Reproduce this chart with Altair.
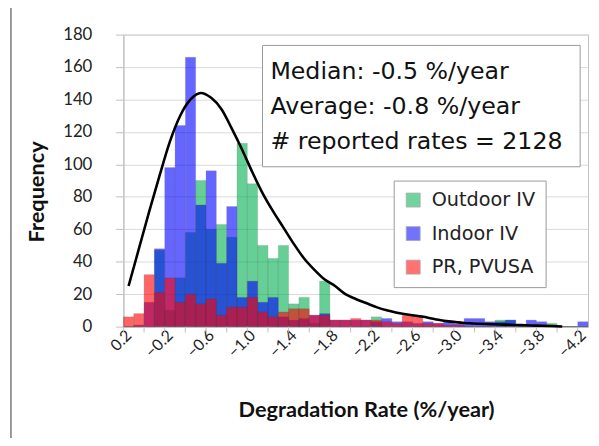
import altair as alt
import pandas as pd

rates = [0.2, 0.1, 0.0, -0.1, -0.2, -0.3, -0.4, -0.5, -0.6, -0.7, -0.8, -0.9, -1.0,
         -1.1, -1.2, -1.3, -1.4, -1.5, -1.6, -1.7, -1.8, -1.9, -2.0, -2.1, -2.2, -2.3,
         -2.4, -2.5, -2.6, -2.7, -2.8, -2.9, -3.0, -3.1, -3.2, -3.3, -3.4, -3.5, -3.6,
         -3.7, -3.8, -3.9, -4.0, -4.1, -4.2]
outdoor = [0, 0, 0, 47, 10, 30, 58, 90, 60, 63, 55, 113, 88, 50, 42, 50, 14, 18, 2, 28,
           0, 0, 0, 0, 6, 0, 0, 0, 0, 0, 0, 0, 0, 0, 0, 0, 4, 4, 0, 0, 0, 2, 0, 0, 0]
indoor = [0, 1, 15, 48, 98, 124, 166, 75, 96, 39, 74, 18, 28, 15, 18, 6, 4, 5, 7, 8,
          4, 4, 4, 4, 3, 5, 3, 3, 2, 3, 2, 3, 2, 5, 5, 3, 3, 4, 0, 4, 3, 0, 0, 0, 3]
pr = [6, 8, 32, 21, 30, 15, 20, 14, 17, 7, 12, 12, 18, 9, 6, 9, 11, 11, 7, 7,
      4, 4, 5, 4, 4, 3, 2, 7, 7, 2, 2, 1, 1, 0, 0, 0, 0, 0, 0, 0, 0, 0, 0, 0, 0]
series_names = ["Outdoor IV", "Indoor IV", "PR, PVUSA"]
series_colors = ["#00b050", "#0000ff", "#ff0000"]

curve_rates = rates[:43]
curve_vals = [25, 48, 71, 93, 114, 130, 140, 144, 141, 134, 122, 109, 95, 82, 71, 61,
              51, 42, 35, 29, 25, 20, 17, 14.5, 12, 10, 8.5, 7.5, 6.5, 5.5, 4.2, 3.2,
              2.6, 2.0, 1.7, 1.5, 1.3, 1.1, 0.9, 0.7, 0.5, 0.3, 0.1]

label_vals = [0.2, -0.2, -0.6, -1.0, -1.4, -1.8, -2.2, -2.6, -3.0, -3.4, -3.8, -4.2]
tick_vals = [0.25, 0.05, -0.15, -0.35, -0.55, -0.75, -0.95, -1.15, -1.35, -1.55, -1.75,
             -1.95, -2.15, -2.35, -2.55, -2.75, -2.95, -3.15, -3.35, -3.55, -3.75,
             -3.95, -4.15]
y_ticks = [0, 20, 40, 60, 80, 100, 120, 140, 160, 180]
box_lines = ["Median: -0.5 %/year", "Average: -0.8 %/year", "# reported rates = 2128"]

FONT = "Lato"
BOXFONT = "DejaVu Sans"
W, H = 471, 296

rows = []
for name, vals in zip(series_names, [outdoor, indoor, pr]):
    for r, v in zip(rates, vals):
        rows.append({"series": name, "lo": r + 0.05, "hi": r - 0.05, "count": v})
bars_df = pd.DataFrame(rows)
curve_df = pd.DataFrame({"rate": curve_rates, "fit": curve_vals})
ticks_df = pd.DataFrame({"t": tick_vals})
one_df = pd.DataFrame({"k": [0]})

xscale = alt.Scale(domain=[-4.25, 0.25], reverse=True, nice=False, zero=False)
yscale = alt.Scale(domain=[0, 180], nice=False)

xaxis = alt.Axis(values=label_vals, format=".1f", labelAngle=-45, labelAlign="right",
                 labelBaseline="middle", labelFontSize=16, labelFont=FONT,
                 labelColor="#222222", labelPadding=6, ticks=False, grid=False,
                 domainColor="#bfbfbf", labelFlush=False, labelOverlap=False,
                 title="Degradation Rate (%/year)", titleFont=FONT, titleFontSize=22,
                 titleFontWeight="bold", titleColor="#111111", titleX=246, titleY=84,
                 titleBaseline="middle", titleAlign="center")
yaxis = alt.Axis(values=y_ticks, labelFontSize=17, labelFont=FONT,
                 labelColor="#222222", tickSize=8, tickColor="#bfbfbf",
                 labelPadding=24, domainColor="#bfbfbf", grid=True,
                 gridColor="#d9d9d9", labelOverlap=False,
                 title="Frequency", titleFont=FONT, titleFontSize=22,
                 titleFontWeight="bold", titleColor="#111111", titleX=-88, titleY=159,
                 titleAngle=270, titleBaseline="middle", titleAlign="center")

bars = alt.Chart(bars_df).mark_bar(opacity=0.6, stroke="#333333", strokeOpacity=0.35,
                                   strokeWidth=0.7).encode(
    x=alt.X("lo:Q", scale=xscale, axis=xaxis),
    x2="hi:Q",
    y=alt.Y("count:Q", scale=yscale, axis=yaxis),
    y2=alt.datum(0),
    color=alt.Color("series:N", sort=series_names,
                    scale=alt.Scale(domain=series_names, range=series_colors),
                    legend=alt.Legend(title=None, orient="none", legendX=274, legendY=148,
                                      padding=10, strokeColor="#999999", fillColor="white",
                                      symbolType="square", symbolSize=200, symbolOpacity=0.55,
                                      symbolStrokeColor="#666666", symbolStrokeWidth=0.8,
                                      labelFontSize=19.5, labelFont=BOXFONT,
                                      labelColor="#222222", rowPadding=13, labelOffset=9)),
    order=alt.Order("series_order:Q")
).transform_calculate(
    series_order="indexof(['Outdoor IV','Indoor IV','PR, PVUSA'], datum.series)"
)

ticks = alt.Chart(ticks_df).mark_rule(color="#bfbfbf", strokeWidth=1).encode(
    x=alt.X("t:Q", scale=xscale, axis=xaxis), y=alt.value(H), y2=alt.value(H + 6))

curve = alt.Chart(curve_df).mark_line(color="black", strokeWidth=2.6,
                                      interpolate="monotone").encode(
    x=alt.X("rate:Q", scale=xscale, axis=xaxis),
    y=alt.Y("fit:Q", scale=yscale, axis=yaxis))

box = alt.Chart(one_df).mark_rect(fill="white", stroke="#999999", strokeWidth=1).encode(
    x=alt.value(141), x2=alt.value(463), y=alt.value(11), y2=alt.value(134))

text_layers = []
for line, ypos in zip(box_lines, [38, 73, 109]):
    text_layers.append(
        alt.Chart(one_df).mark_text(align="left", baseline="middle", font=BOXFONT,
                                    fontSize=24, color="#111111", text=line).encode(
            x=alt.value(149), y=alt.value(ypos)))

frame = alt.Chart(one_df).mark_rule(color="#555555", strokeWidth=1.2).encode(
    x=alt.value(-114), y=alt.value(-40), y2=alt.value(420))

chart = alt.layer(bars, ticks, curve, box, *text_layers, frame).properties(
    width=W, height=H,
    autosize=alt.AutoSizeParams(type="none"),
    padding={"left": 117, "top": 24, "right": 3, "bottom": 110},
).configure_view(stroke="#bfbfbf", strokeWidth=1).configure_axis(gridWidth=1)

chart.save("out.html", embed_options={"renderer": "svg", "actions": False})
